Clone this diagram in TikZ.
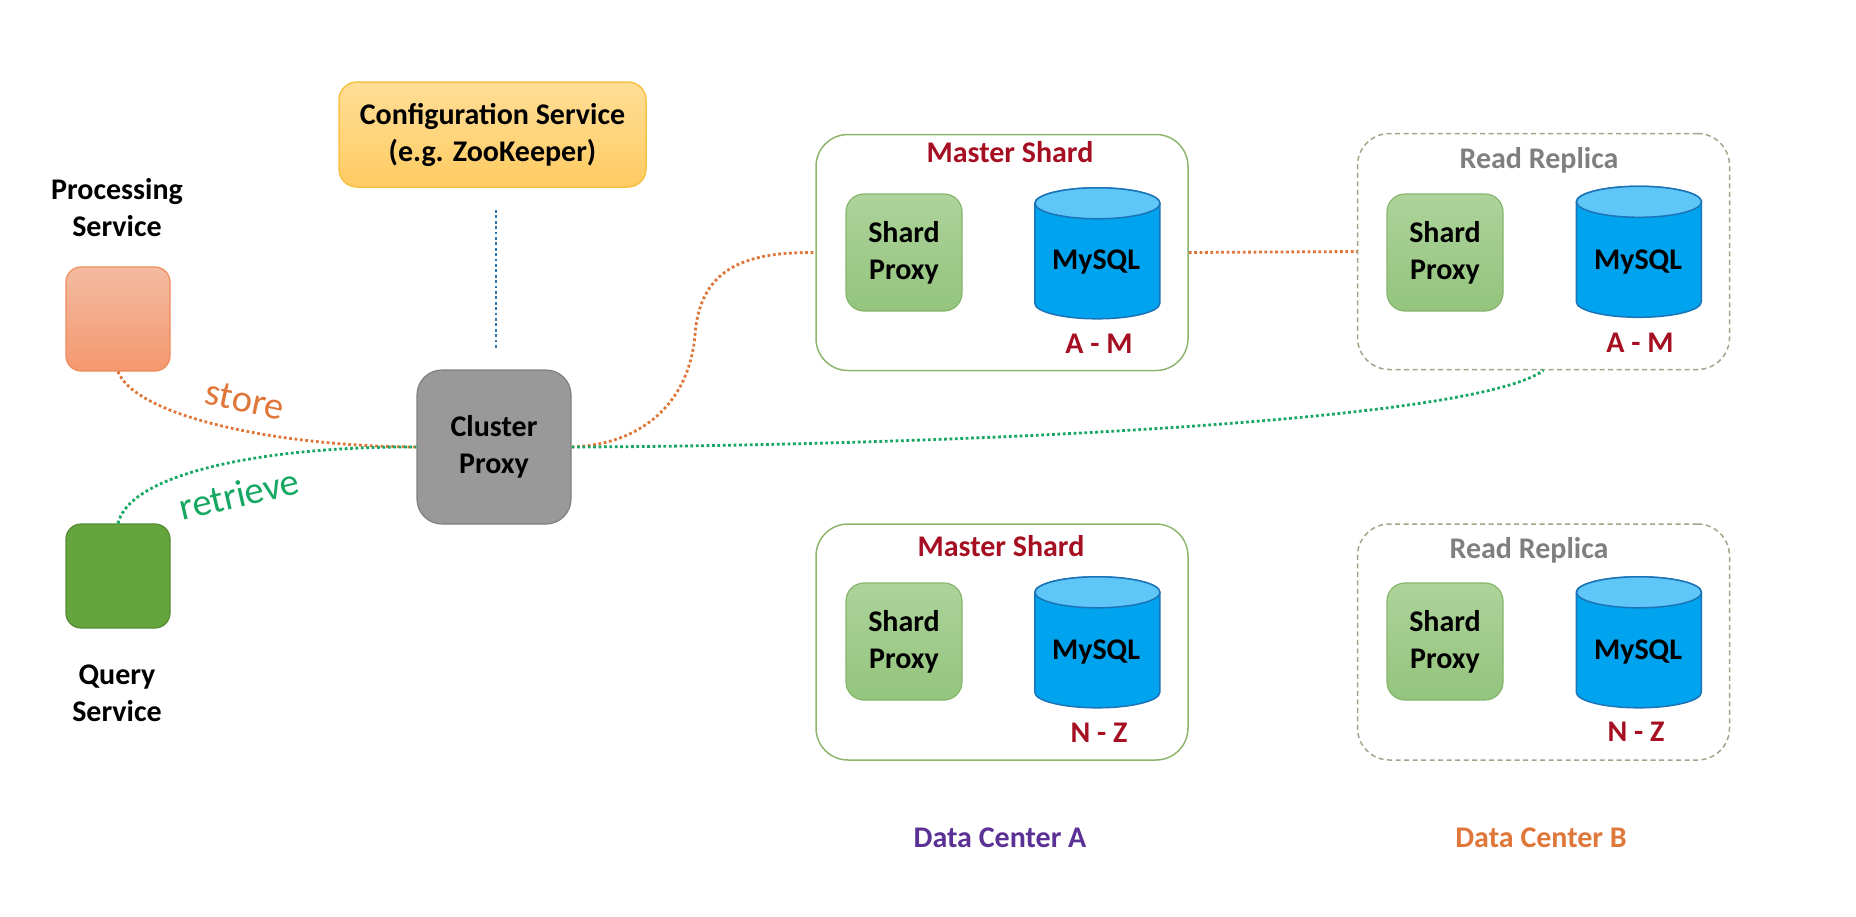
\documentclass[tikz,border=0pt]{standalone}
\usepackage{fontspec}
\setmainfont{Carlito}
\definecolor{cfgtop}{HTML}{FFDE96}
\definecolor{cfgbot}{HTML}{FFCB62}
\definecolor{cfgline}{HTML}{F6C244}
\definecolor{proctop}{HTML}{F3BBA0}
\definecolor{procbot}{HTML}{F49870}
\definecolor{procline}{HTML}{ED8B5A}
\definecolor{qfill}{HTML}{64A53D}
\definecolor{qline}{HTML}{558B33}
\definecolor{cfill}{HTML}{999999}
\definecolor{cline}{HTML}{7F7F7F}
\definecolor{shtop}{HTML}{ADD39A}
\definecolor{shbot}{HTML}{94C47D}
\definecolor{shline}{HTML}{86B56C}
\definecolor{dbbody}{HTML}{00A3EE}
\definecolor{dbtop}{HTML}{5EC7F8}
\definecolor{dbedge}{HTML}{1C74B8}
\definecolor{mline}{HTML}{8DB56E}
\definecolor{rline}{HTML}{9AA88A}
\definecolor{dred}{HTML}{A50F21}
\definecolor{greytxt}{HTML}{7F7F7F}
\definecolor{purp}{HTML}{5B3195}
\definecolor{orng}{HTML}{E0773A}
\definecolor{grn}{HTML}{16A862}
\definecolor{blu}{HTML}{2E75B6}
\tikzset{
  lbl/.style={font=\fontsize{30}{37}\selectfont\bfseries,align=center,inner sep=0pt,text=black},
  redlbl/.style={lbl,text=dred},
  greylbl/.style={lbl,text=greytxt},
  svcbox/.style={rectangle,rounded corners=15pt,minimum width=104pt,minimum height=104pt,inner sep=0pt,line width=1.2pt},
  shardbox/.style={lbl,rectangle,rounded corners=18pt,minimum width=116pt,minimum height=117pt,top color=shtop,bottom color=shbot,draw=shline,line width=1.2pt},
  master/.style={rectangle,rounded corners=32pt,minimum width=372pt,minimum height=236pt,inner sep=0pt,draw=mline,line width=1.5pt},
  replica/.style={master,draw=rline,dash pattern=on 5pt off 3.5pt},
  dbframe/.style={rectangle,minimum width=125pt,minimum height=131pt,inner sep=0pt},
  dbpart/.style={draw=dbedge,line width=1.5pt},
  link/.style={line width=2.8pt,dash pattern=on 2.8pt off 2.6pt},
}
\newcommand{\dbcyl}[3]{%
  \node[dbframe] (#1) at (#2,#3) {};
  \draw[dbpart,fill=dbbody] (#1.north west) ++(0,15.5) -- ++(0,100)
     arc[start angle=180,end angle=360,x radius=62.5pt,y radius=15.5pt] -- ++(0,-100)
     arc[start angle=0,end angle=180,x radius=62.5pt,y radius=15.5pt] -- cycle;
  \draw[dbpart,fill=dbtop] (#1.north) ++(0,15.5) ellipse[x radius=62.5pt,y radius=15.5pt];
}
\begin{document}
\begin{tikzpicture}[x=1pt,y=-1pt]
\useasboundingbox (0,0) rectangle (1856,916);
% containers
\node[master]  (master1)  at (1002,252.5) {};
\node[replica] (replica1) at (1543.5,251.5) {};
\node[master]  (master2)  at (1002,642) {};
\node[replica] (replica2) at (1543.5,642) {};
% services
\node[lbl,rectangle,rounded corners=18pt,minimum width=307pt,minimum height=105pt,top color=cfgtop,bottom color=cfgbot,draw=cfgline,line width=1.5pt] (config) at (492.5,134.5) {\raisebox{-1pt}{Configuration Service}\\\raisebox{-1pt}{(e.g. ZooKeeper)}};
\node[svcbox,top color=proctop,bottom color=procbot,draw=procline] (proc) at (118,319) {};
\node[svcbox,fill=qfill,draw=qline] (query) at (118,576) {};
\node[lbl,rectangle,rounded corners=25pt,minimum width=154pt,minimum height=154pt,fill=cfill,draw=cline,line width=1.2pt] (cluster) at (494,447) {\raisebox{-2pt}{Cluster}\\\raisebox{-2pt}{Proxy}};
\node[lbl] (proclbl) at (117,208) {Processing\\Service};
\node[lbl] (querylbl) at (117,693) {Query\\Service};
% connectors
\coordinate (cfgA) at (496,210);
\coordinate (cfgB) at (496,348);
\draw[link,blu] (cfgA) -- (cfgB);
\draw[link,orng] (proc.south) .. controls (135,415) and (270,446) .. (cluster.west);
\draw[link,grn] (query.north) .. controls (130,472) and (270,446) .. (cluster.west);
\draw[link,orng] (cluster.east) .. controls (650,444) and (690,395) .. (695,335) .. controls (700,265) and (750,252) .. (master1.west);
\draw[link,orng] (master1.east) -- (replica1.west);
\draw[link,grn] (cluster.east) .. controls (900,446) and (1470,425) .. (replica1.south);
% edge labels
\node[inner sep=0pt,text=orng,font=\fontsize{38.5}{40}\selectfont,rotate=-12] (storelbl) at (245,400) {store};
\node[inner sep=0pt,text=grn,font=\fontsize{38.5}{40}\selectfont,rotate=13] (retrlbl) at (239,494) {retrieve};
% shard contents
\node[shardbox] (sh1a) at (904,252.5) {Shard\\Proxy};
\node[shardbox] (sh1b) at (1445,252.5) {Shard\\Proxy};
\node[shardbox] (sh2a) at (904,641.5) {Shard\\Proxy};
\node[shardbox] (sh2b) at (1445,641.5) {Shard\\Proxy};
\dbcyl{db1a}{1097.5}{253.5}
\dbcyl{db1b}{1639}{252}
\dbcyl{db2a}{1097.5}{642.5}
\dbcyl{db2b}{1639}{642.5}
\node[lbl] (my1a) at (1096,262) {MySQL};
\node[lbl] (my1b) at (1638,262) {MySQL};
\node[lbl] (my2a) at (1096,652) {MySQL};
\node[lbl] (my2b) at (1638,652) {MySQL};
% titles
\node[redlbl] (t1a) at (1010,152) {Master Shard};
\node[greylbl] (t1b) at (1539,160) {Read Replica};
\node[redlbl] (t2a) at (1001,546) {Master Shard};
\node[greylbl] (t2b) at (1529,550) {Read Replica};
\node[redlbl] (r1a) at (1099,344) {A - M};
\node[redlbl] (r1b) at (1640,343) {A - M};
\node[redlbl] (r2a) at (1099,733) {N - Z};
\node[redlbl] (r2b) at (1636,732) {N - Z};
\node[lbl,text=purp] (dca) at (1000,838) {Data Center A};
\node[lbl,text=orng] (dcb) at (1541,838) {Data Center B};
\end{tikzpicture}
\end{document}
